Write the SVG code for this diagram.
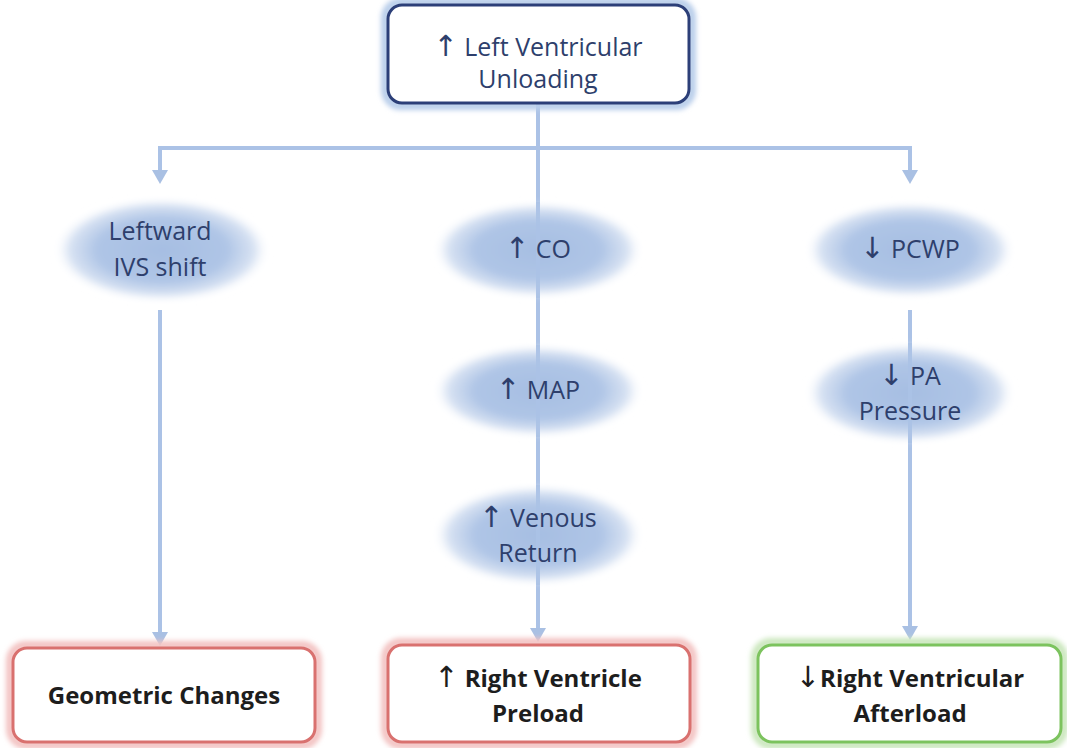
<svg xmlns="http://www.w3.org/2000/svg" width="1067" height="748" viewBox="0 0 1067 748">
  <defs>
    <radialGradient id="blob" cx="50%" cy="50%" r="50%">
      <stop offset="0" stop-color="#a6bee2"/>
      <stop offset="0.6" stop-color="#afc5e6"/>
      <stop offset="0.85" stop-color="#d2def1" stop-opacity="0.9"/>
      <stop offset="1" stop-color="#ffffff" stop-opacity="0"/>
    </radialGradient>
    <filter id="soft" x="-20%" y="-20%" width="140%" height="140%">
      <feGaussianBlur stdDeviation="3"/>
    </filter>
    <filter id="glow" x="-10%" y="-20%" width="120%" height="140%">
      <feGaussianBlur stdDeviation="2.5"/>
    </filter>
  </defs>
  <style>
    .line { stroke: #abc2e6; stroke-width: 4; fill: none; }
    .head { fill: #a9c0e3; }
    .mid { font-family: "Open Sans", "Liberation Sans", sans-serif; font-size: 25px; fill: #2e3f6c; text-anchor: middle; }
    .out { font-family: "Open Sans", "Liberation Sans", sans-serif; font-size: 24px; font-weight: bold; fill: #1d1d1d; text-anchor: middle; }
    .arw { font-family: "DejaVu Sans", sans-serif; font-weight: normal; font-size: 29px; }
    .blob { fill: url(#blob); filter: url(#soft); }
  </style>
  <rect width="1067" height="748" fill="#ffffff"/>

  <!-- connectors -->
  <g id="connectors">
    <line class="line" x1="538" y1="104" x2="538" y2="630"/>
    <path class="line" d="M160,148 H910"/>
    <line class="line" x1="160" y1="146" x2="160" y2="172"/>
    <line class="line" x1="910" y1="146" x2="910" y2="172"/>
    <line class="line" x1="160" y1="310" x2="160" y2="632"/>
    <line class="line" x1="910" y1="310" x2="910" y2="628"/>
    <path class="head" d="M152,170 L168,170 L160,184 Z"/>
    <path class="head" d="M902,170 L918,170 L910,184 Z"/>
    <path class="head" d="M152,632 L168,632 L160,646 Z"/>
    <path class="head" d="M530,628 L546,628 L538,642 Z"/>
    <path class="head" d="M902,626 L918,626 L910,640 Z"/>
  </g>

  <!-- source -->
  <g id="lv-unloading">
    <rect x="385" y="2" width="307" height="104" rx="16" fill="none" stroke="#b8cdea" stroke-width="8" filter="url(#glow)"/>
    <rect x="388" y="5" width="301" height="98" rx="14" fill="#ffffff" stroke="#2c3f78" stroke-width="3"/>
    <text class="mid" x="538" y="56"><tspan class="arw">↑</tspan> Left Ventricular</text>
    <text class="mid" x="538" y="88">Unloading</text>
  </g>

  <!-- intermediate effects -->
  <g id="ivs-shift">
    <ellipse class="blob" cx="162" cy="250" rx="108" ry="52"/>
    <text class="mid" x="160" y="240">Leftward</text>
    <text class="mid" x="160" y="276">IVS shift</text>
  </g>
  <g id="co">
    <ellipse class="blob" cx="538" cy="250" rx="105" ry="48"/>
    <line class="line" x1="538" y1="202" x2="538" y2="298" opacity="0.9"/>
    <text class="mid" x="538" y="258"><tspan class="arw">↑</tspan> CO</text>
  </g>
  <g id="map">
    <ellipse class="blob" cx="538" cy="391" rx="105" ry="46"/>
    <line class="line" x1="538" y1="345" x2="538" y2="437" opacity="0.9"/>
    <text class="mid" x="538" y="399"><tspan class="arw">↑</tspan> MAP</text>
  </g>
  <g id="venous-return">
    <ellipse class="blob" cx="538" cy="535" rx="105" ry="50"/>
    <line class="line" x1="538" y1="485" x2="538" y2="585" opacity="0.9"/>
    <text class="mid" x="538" y="527"><tspan class="arw">↑</tspan> Venous</text>
    <text class="mid" x="538" y="562">Return</text>
  </g>
  <g id="pcwp">
    <ellipse class="blob" cx="910" cy="250" rx="105" ry="48"/>
    <text class="mid" x="910" y="258"><tspan class="arw">↓</tspan> PCWP</text>
  </g>
  <g id="pa-pressure">
    <ellipse class="blob" cx="910" cy="393" rx="105" ry="50"/>
    <line class="line" x1="910" y1="343" x2="910" y2="443" opacity="0.9"/>
    <text class="mid" x="910" y="385"><tspan class="arw">↓</tspan> PA</text>
    <text class="mid" x="910" y="420">Pressure</text>
  </g>

  <!-- outcomes -->
  <g id="geometric-changes">
    <rect x="10" y="645" width="308" height="100" rx="16" fill="none" stroke="#f3c3c2" stroke-width="8" filter="url(#glow)"/>
    <rect x="13" y="648" width="302" height="94" rx="14" fill="#ffffff" stroke="#d9716f" stroke-width="3"/>
    <text class="out" x="164" y="704">Geometric Changes</text>
  </g>
  <g id="rv-preload">
    <rect x="385" y="642" width="308" height="103" rx="16" fill="none" stroke="#f3c3c2" stroke-width="8" filter="url(#glow)"/>
    <rect x="388" y="645" width="302" height="97" rx="14" fill="#ffffff" stroke="#d9716f" stroke-width="3"/>
    <text class="out" x="538" y="687"><tspan class="arw">↑</tspan> Right Ventricle</text>
    <text class="out" x="538" y="722">Preload</text>
  </g>
  <g id="rv-afterload">
    <rect x="755" y="642" width="309" height="103" rx="16" fill="none" stroke="#cbe7bd" stroke-width="8" filter="url(#glow)"/>
    <rect x="758" y="645" width="303" height="97" rx="14" fill="#ffffff" stroke="#7cc35e" stroke-width="3"/>
    <text class="out" x="910" y="687"><tspan class="arw">↓</tspan>Right Ventricular</text>
    <text class="out" x="910" y="722">Afterload</text>
  </g>
</svg>
